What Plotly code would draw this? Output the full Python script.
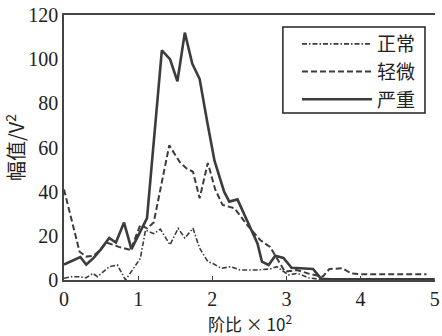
import plotly.graph_objects as go

# ---- data ----
normal_x = [0, 0.1, 0.19, 0.3, 0.39, 0.45, 0.61, 0.72, 0.83, 1.03, 1.1, 1.21, 1.3, 1.43, 1.54, 1.63, 1.74,
            1.83, 1.94, 2.01, 2.12, 2.25, 2.38, 2.6, 2.78, 2.87, 3.03, 3.15, 3.3, 3.45, 3.6, 4.0, 4.5, 5.0]
normal_y = [0.8, 1.5, 1.5, 1.0, 3.0, 1.5, 6.0, 6.8, 0.0, 9.8, 22.6, 21.0, 23.0, 15.9, 23.4, 19.0, 23.4,
            14.4, 8.3, 7.5, 5.3, 6.0, 4.5, 4.5, 5.0, 6.0, 2.3, 3.0, 1.0, 0.3, 0.3, 0.3, 0.3, 0.3]

mild_x = [0, 0.21, 0.3, 0.4, 0.5, 0.57, 0.66, 0.74, 0.9, 1.03, 1.12, 1.21, 1.42, 1.56, 1.65, 1.74, 1.83,
          1.94, 2.04, 2.14, 2.3, 2.47, 2.65, 2.78, 2.9, 2.98, 3.14, 3.29, 3.49, 3.58, 3.76, 3.87, 4.0, 4.5, 4.89]
mild_y = [41, 12.8, 10.6, 11, 14, 17, 16, 15, 13.6, 25, 23.4, 26, 61, 53.5, 50.6, 49, 37,
          53, 41, 34, 32.5, 25, 18, 15, 8.3, 3.8, 4.5, 3.0, 1.5, 5.0, 5.3, 3.0, 2.6, 2.6, 2.6]

severe_x = [0, 0.1, 0.22, 0.3, 0.4, 0.5, 0.61, 0.7, 0.81, 0.91, 1.0, 1.12, 1.32, 1.43, 1.53, 1.63, 1.73,
            1.83, 1.93, 2.03, 2.16, 2.23, 2.34, 2.47, 2.61, 2.67, 2.76, 2.85, 2.96, 3.07, 3.2, 3.36, 3.47,
            3.6, 4.0, 4.5, 5.0]
severe_y = [7, 8.5, 10.4, 7, 10, 14, 19, 17, 26, 14, 20, 28, 104, 100, 90, 112, 98,
            91, 72, 54, 40, 35.5, 36.5, 27, 16.6, 8.3, 6.8, 11, 10, 5.5, 5.3, 5, 0.5,
            0.3, 0.3, 0.3, 0.3]

series_names = ["正常", "轻微", "严重"]
x_ticks = [0, 1, 2, 3, 4, 5]
y_ticks = [0, 20, 40, 60, 80, 100, 120]
x_title = "阶比 × 10<sup>2</sup>"
y_title = "幅值/V<sup>2</sup>"

line_col = "#3c3c3c"
fig = go.Figure()
fig.add_trace(go.Scatter(x=normal_x, y=normal_y, mode="lines", name=series_names[0],
                         line=dict(color=line_col, width=1.6, dash="5px,2px,1.5px,2px")))
fig.add_trace(go.Scatter(x=mild_x, y=mild_y, mode="lines", name=series_names[1],
                         line=dict(color=line_col, width=2, dash="6px,3px")))
fig.add_trace(go.Scatter(x=severe_x, y=severe_y, mode="lines", name=series_names[2],
                         line=dict(color=line_col, width=2.6)))

# legend frame
fig.add_shape(type="rect", xref="paper", yref="paper", x0=0.590, x1=0.973, y0=0.630, y1=0.955,
              line=dict(color="#222", width=1.5), fillcolor="white", layer="below")

# x-axis title as annotation
fig.add_annotation(text=x_title, xref="paper", yref="paper", x=0.5, y=-0.163,
                   xanchor="center", yanchor="middle", showarrow=False,
                   font=dict(family="Noto Sans CJK SC", size=17, color="#222"))

tick_font = dict(family="Liberation Serif", size=20, color="#222")
fig.update_layout(
    width=442, height=336,
    margin=dict(l=64, r=2, t=15, b=56),
    paper_bgcolor="white", plot_bgcolor="white",
    showlegend=True,
    legend=dict(x=0.628, y=0.962, xanchor="left", yanchor="top",
                borderwidth=0, bgcolor="rgba(0,0,0,0)",
                font=dict(family="Noto Sans CJK SC", size=19, color="#222"),
                itemwidth=70, tracegroupgap=0),
    xaxis=dict(range=[0, 5.005], tickvals=x_ticks, ticktext=[str(v) for v in x_ticks],
               showgrid=False, zeroline=False, showline=True, linecolor="#444", linewidth=1.5,
               mirror=True, ticks="inside", ticklen=4, tickcolor="#444", tickfont=tick_font,
               ticklabeloverflow="allow"),
    yaxis=dict(range=[0, 120], tickvals=y_ticks, ticktext=[str(v) for v in y_ticks],
               showgrid=False, zeroline=False, showline=True, linecolor="#444", linewidth=1.5,
               ticks="", tickfont=tick_font,
               title=dict(text=y_title, standoff=5,
                          font=dict(family="Noto Sans CJK SC", size=20, color="#222"))),
)

fig.write_html("out.html")
